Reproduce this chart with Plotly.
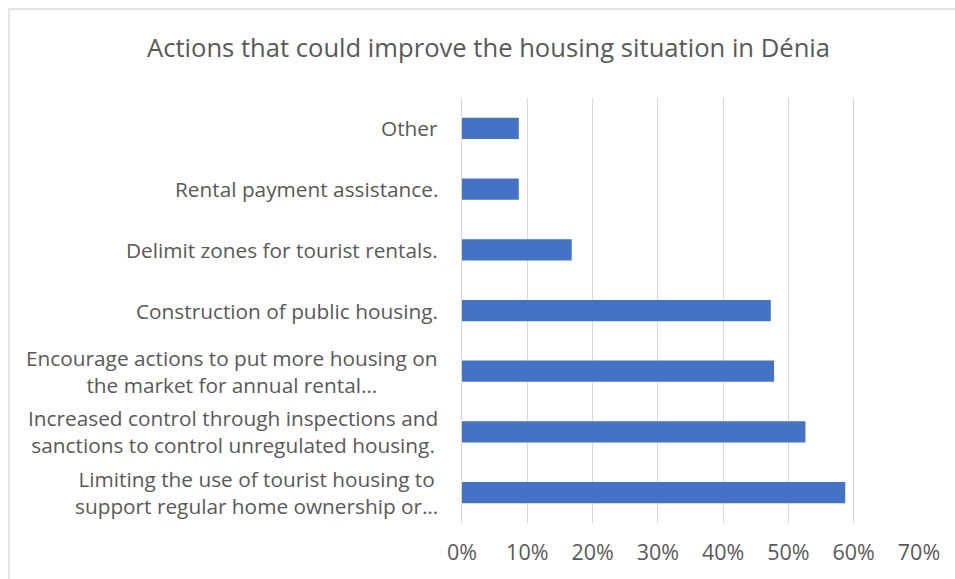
import plotly.graph_objects as go

# Survey answers, listed top to bottom as they appear on the chart
actions = [
    "Other",
    "Rental payment assistance.",
    "Delimit zones for tourist rentals.",
    "Construction of public housing.",
    "Encourage actions to put more housing on<br>the market for annual rental…",
    "Increased control through inspections and<br>sanctions to control unregulated housing.",
    "Limiting the use of tourist housing to<br>support regular home ownership or…",
]
shares = [0.087, 0.087, 0.168, 0.473, 0.478, 0.526, 0.587]

x_ticks = [0, 0.1, 0.2, 0.3, 0.4, 0.5, 0.6, 0.7]
x_tick_labels = ["0%", "10%", "20%", "30%", "40%", "50%", "60%", "70%"]

title_text = "Actions that could improve the housing situation in Dénia"

FONT = "Open Sans"
TEXT_GREY = "#595959"
GRID_GREY = "#d9d9d9"
BAR_BLUE = "#4472c4"

W, H = 955, 579
L, R, T, B = 462, 36, 98, 56
plot_w = W - L - R
plot_h = H - T - B

fig = go.Figure(
    go.Bar(
        y=actions,
        x=shares,
        orientation="h",
        marker=dict(color=BAR_BLUE, line=dict(width=0)),
        hoverinfo="skip",
    )
)

# Category labels drawn as centred multi-line annotations beside the axis
for name in actions:
    fig.add_annotation(
        x=0, xref="paper", y=name, yref="y",
        text=name, showarrow=False,
        xanchor="right", yanchor="middle", align="center",
        xshift=-22,
        font=dict(family=FONT, size=20.8, color=TEXT_GREY),
    )

# Light chart-area border (right and bottom edges fall outside the canvas)
fig.add_shape(
    type="rect", xref="paper", yref="paper",
    x0=(9 - L) / plot_w, x1=(W + 20 - L) / plot_w,
    y0=-(B + 20) / plot_h, y1=1 + (T - 9) / plot_h,
    line=dict(color=GRID_GREY, width=1.3), fillcolor="rgba(0,0,0,0)",
    layer="below",
)

fig.update_layout(
    width=W, height=H,
    margin=dict(l=L, r=R, t=T, b=B, pad=0),
    paper_bgcolor="white", plot_bgcolor="white",
    bargap=0.65,
    showlegend=False,
    title=dict(
        text=title_text,
        x=488.5 / W, xref="container", xanchor="center",
        y=1 - 48 / H, yref="container", yanchor="middle",
        font=dict(family=FONT, size=25.6, color=TEXT_GREY),
    ),
    xaxis=dict(
        range=[0, 0.7],
        tickvals=x_ticks, ticktext=x_tick_labels,
        showgrid=True, gridcolor=GRID_GREY, gridwidth=1.3,
        zeroline=False, showline=False,
        ticks="", ticklabelstandoff=14,
        tickfont=dict(family=FONT, size=21.5, color=TEXT_GREY),
        fixedrange=True,
    ),
    yaxis=dict(
        autorange="reversed",
        showticklabels=False,
        showgrid=False, zeroline=False,
        showline=True, linecolor=GRID_GREY, linewidth=1.3,
        ticks="",
        fixedrange=True,
    ),
)

fig.write_html("out.html")
